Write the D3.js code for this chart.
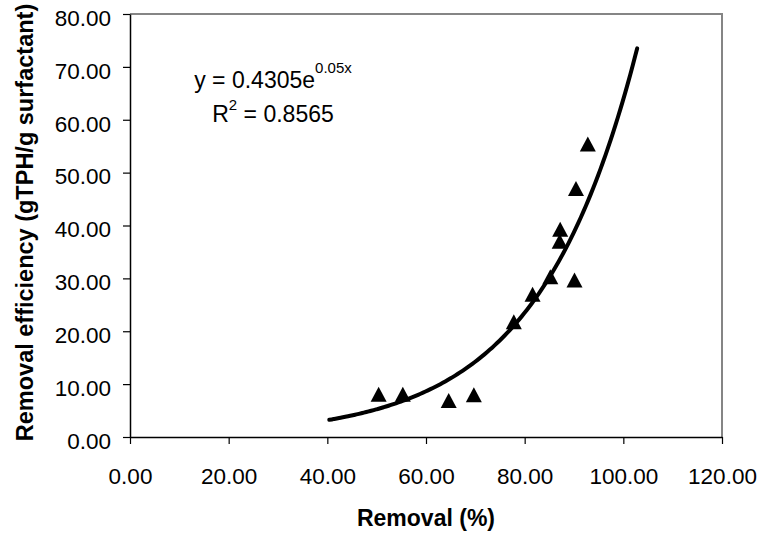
<!DOCTYPE html>
<html>
<head>
<meta charset="utf-8">
<script src="https://cdn.jsdelivr.net/npm/d3@7"></script>
<style>
  body { margin: 0; background: #fff; }
  svg { display: block; font-family: 'Liberation Sans', Arial, sans-serif; }
</style>
</head>
<body>
<div id="chart"></div>
<script>
// removal (%) vs removal efficiency (gTPH/g surfactant)
const removal = [50.4, 55.3, 64.6, 69.7, 77.8, 81.6, 85.2, 87.1, 87.2, 90.1, 90.4, 92.8];
const efficiency = [8.1, 8.1, 6.9, 8.0, 21.8, 27.0, 30.3, 37.0, 39.3, 29.7, 47.0, 55.4];
const xTicks = [0, 20, 40, 60, 80, 100, 120];
const yTicks = [0, 10, 20, 30, 40, 50, 60, 70, 80];
// exponential trendline as reported, forecast 10 units both ways
const trendA = 0.4305;
const trendB = 0.05;
const trendForecast = 10;
const trendLabel = ['y = 0.4305e', '0.05x'];
const r2Label = '0.8565';

const width = 764;
const height = 541;
const margin = {
  top: 14, right: 42, bottom: 104, left: 130,
};

const svg = d3.select('#chart').append('svg')
  .attr('width', width)
  .attr('height', height);

const x = d3.scaleLinear().domain([0, 120]).range([margin.left, width - margin.right]);
const y = d3.scaleLinear().domain([0, 80]).range([height - margin.bottom, margin.top]);

// plot area frame (grey top / right)
svg.append('path')
  .attr('d', `M${x(0)},${y(80)}H${x(120)}V${y(0)}`)
  .attr('fill', 'none')
  .attr('stroke', '#858585')
  .attr('stroke-width', 2);

const xAxis = svg.append('g')
  .attr('transform', `translate(0,${y(0)})`)
  .call(d3.axisBottom(x).tickValues(xTicks).tickSize(7).tickSizeOuter(0)
    .tickFormat(d3.format('.2f')));

const yAxis = svg.append('g')
  .attr('transform', `translate(${x(0)},0)`)
  .call(d3.axisLeft(y).tickValues(yTicks).tickSize(7).tickSizeOuter(0)
    .tickFormat(d3.format('.2f')));

[xAxis, yAxis].forEach((ax) => {
  ax.select('.domain').attr('stroke', '#000').attr('stroke-width', 1.5);
  ax.selectAll('.tick line').attr('stroke', '#000').attr('stroke-width', 1.2);
  ax.selectAll('.tick text')
    .attr('font-family', null)
    .attr('font-size', 22.5)
    .attr('fill', '#000');
});

xAxis.selectAll('.tick text').attr('y', 47).attr('dy', null);
yAxis.selectAll('.tick text').attr('x', -19).attr('dy', '0.5em');

// trendline
const xs = d3.extent(removal);
const trendX = d3.range(xs[0] - trendForecast, xs[1] + trendForecast, 0.5)
  .concat([xs[1] + trendForecast]);
const line = d3.line()
  .x(d => x(d))
  .y(d => y(trendA * Math.exp(trendB * d)))
  .curve(d3.curveMonotoneX);

svg.append('path')
  .datum(trendX)
  .attr('d', line)
  .attr('fill', 'none')
  .attr('stroke', '#000')
  .attr('stroke-width', 4)
  .attr('stroke-linecap', 'round');

// triangle markers
const tri = (cx, cy) => `M${cx},${cy - 7.5}L${cx + 8},${cy + 7.5}L${cx - 8},${cy + 7.5}Z`;

svg.append('g')
  .selectAll('path')
  .data(removal.map((r, i) => ({ r, e: efficiency[i] })))
  .enter().append('path')
  .attr('d', d => tri(x(d.r), y(d.e)))
  .attr('fill', '#000');

// equation
const eq = svg.append('text')
  .attr('x', 273)
  .attr('y', 88)
  .attr('text-anchor', 'middle')
  .attr('font-size', 23);
eq.append('tspan').text(trendLabel[0]);
eq.append('tspan').attr('font-size', 15).attr('dy', -15).text(trendLabel[1]);

const r2 = svg.append('text')
  .attr('x', 273)
  .attr('y', 122)
  .attr('text-anchor', 'middle')
  .attr('font-size', 23);
r2.append('tspan').text('R');
r2.append('tspan').attr('font-size', 15).attr('dy', -12).text('2');
r2.append('tspan').attr('dy', 12).text(` = ${r2Label}`);

// axis titles
svg.append('text')
  .attr('x', (x(0) + x(120)) / 2)
  .attr('y', 526)
  .attr('text-anchor', 'middle')
  .attr('font-size', 23)
  .attr('font-weight', 'bold')
  .text('Removal (%)');

svg.append('text')
  .attr('transform', `translate(33,${(y(0) + y(80)) / 2 - 3}) rotate(-90)`)
  .attr('text-anchor', 'middle')
  .attr('font-size', 23.5)
  .attr('font-weight', 'bold')
  .text('Removal efficiency (gTPH/g surfactant)');
</script>
</body>
</html>
